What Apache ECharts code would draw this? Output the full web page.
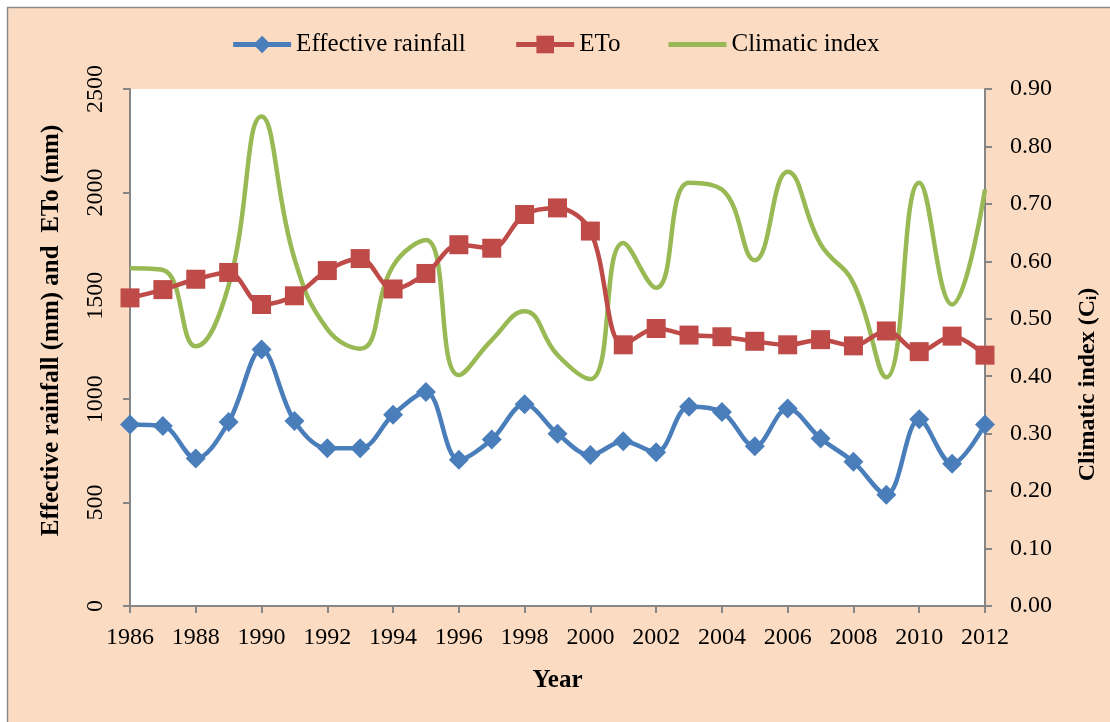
<!DOCTYPE html>
<html>
<head>
<meta charset="utf-8">
<script src="https://cdn.jsdelivr.net/npm/echarts@6/dist/echarts.min.js"></script>
<style>html,body{margin:0;padding:0;background:#fff}#c{width:1110px;height:722px}</style>
</head>
<body>
<div id="c"></div>
<script>
const years = ['1986','1987','1988','1989','1990','1991','1992','1993','1994','1995','1996','1997','1998','1999','2000','2001','2002','2003','2004','2005','2006','2007','2008','2009','2010','2011','2012'];
const effectiveRainfall = [878,870,713,890,1240,895,763,763,925,1035,707,805,975,833,730,797,743,963,938,772,955,810,697,538,903,688,878];
const eto = [1490,1530,1580,1613,1458,1500,1622,1680,1533,1608,1747,1730,1893,1925,1813,1263,1342,1310,1302,1280,1263,1288,1258,1330,1230,1305,1213];
const climaticIndex = [0.588,0.585,0.452,0.558,0.852,0.605,0.482,0.448,0.592,0.637,0.402,0.463,0.513,0.437,0.395,0.632,0.554,0.737,0.725,0.602,0.756,0.630,0.562,0.398,0.737,0.525,0.725];
const leftTicks = {min:0, max:2500, interval:500};
const rightTicks = {min:0, max:0.9, interval:0.1};

const font = '"Liberation Serif","Times New Roman",serif';
const chart = echarts.init(document.getElementById('c'), null, {renderer:'canvas'});
chart.setOption({
  backgroundColor:'#ffffff',
  textStyle:{fontFamily:font},
  graphic:[{type:'rect', z:-100, silent:true, shape:{x:7.5,y:7.5,width:1130,height:740}, style:{fill:'#FBDCC3', stroke:'#8c8c8c', lineWidth:1.5}}],
  legend:{
    top:27, left:'center', itemGap:48, itemWidth:58, itemHeight:22,
    textStyle:{fontFamily:font, fontSize:25, color:'#000'},
    lineStyle:{width:5},
    data:[
      {name:'Effective rainfall'},
      {name:'ETo'},
      {name:'Climatic index', icon:'path://M0,0H58V5H0Z', itemStyle:{color:'#98B954'}}
    ]
  },
  grid:{left:130, right:125, top:89, bottom:116, show:true, backgroundColor:'#ffffff', borderWidth:0},
  xAxis:{
    type:'category', data:years, boundaryGap:false,
    name:'Year', nameLocation:'middle', nameGap:62,
    nameTextStyle:{fontFamily:font, fontSize:25, fontWeight:'bold', color:'#000'},
    axisLine:{lineStyle:{color:'#868686', width:2}},
    axisTick:{interval:1, length:7, lineStyle:{color:'#868686', width:2}},
    axisLabel:{interval:1, fontFamily:font, fontSize:24, color:'#000', margin:20},
    splitLine:{show:false}
  },
  yAxis:[{
    type:'value', min:leftTicks.min, max:leftTicks.max, interval:leftTicks.interval,
    name:'Effective rainfall (mm) and  ETo (mm)', nameLocation:'middle', nameGap:66, nameRotate:90,
    nameTextStyle:{fontFamily:font, fontSize:25, fontWeight:'bold', color:'#000', padding:[0,0,0,34]},
    axisLine:{show:true, lineStyle:{color:'#868686', width:2}},
    axisTick:{show:true, length:7, lineStyle:{color:'#868686', width:2}},
    axisLabel:{rotate:90, fontFamily:font, fontSize:24, color:'#000', margin:22, formatter:v=>String(v)},
    splitLine:{show:false}
  },{
    type:'value', position:'right', min:rightTicks.min, max:rightTicks.max, interval:rightTicks.interval,
    name:'{a|Climatic index (C}{s|i}{a|)}', nameLocation:'middle', nameGap:90, nameRotate:90,
    nameTextStyle:{fontFamily:font, fontSize:24, fontWeight:'bold', color:'#000', padding:[0,74,0,0],
      rich:{a:{fontFamily:font, fontSize:24, fontWeight:'bold', color:'#000'}, s:{fontFamily:font, fontSize:15, fontWeight:'bold', color:'#000', verticalAlign:'bottom', padding:[10,0,0,0]}}},
    axisLine:{show:true, lineStyle:{color:'#868686', width:2}},
    axisTick:{show:true, length:7, lineStyle:{color:'#868686', width:2}},
    axisLabel:{fontFamily:font, fontSize:24, color:'#000', margin:25, formatter:v=>v.toFixed(2)},
    splitLine:{show:false}
  }],
  series:[{
    name:'Effective rainfall', type:'line', yAxisIndex:0, data:effectiveRainfall, smooth:0.35,
    symbol:'diamond', symbolSize:20, color:'#4A7EBB',
    lineStyle:{width:4.5, color:'#4A7EBB'}, itemStyle:{color:'#4A7EBB'}, z:3
  },{
    name:'ETo', type:'line', yAxisIndex:0, data:eto, smooth:0.35,
    symbol:'rect', symbolSize:19, color:'#BE4B48',
    lineStyle:{width:4.5, color:'#BE4B48'}, itemStyle:{color:'#BE4B48'}, z:2
  },{
    name:'Climatic index', type:'line', yAxisIndex:1, data:climaticIndex, smooth:0.45,
    symbol:'none', showSymbol:false, color:'#98B954',
    lineStyle:{width:4.5, color:'#98B954'}, itemStyle:{color:'#98B954'}, z:1
  }]
});
</script>
</body>
</html>
